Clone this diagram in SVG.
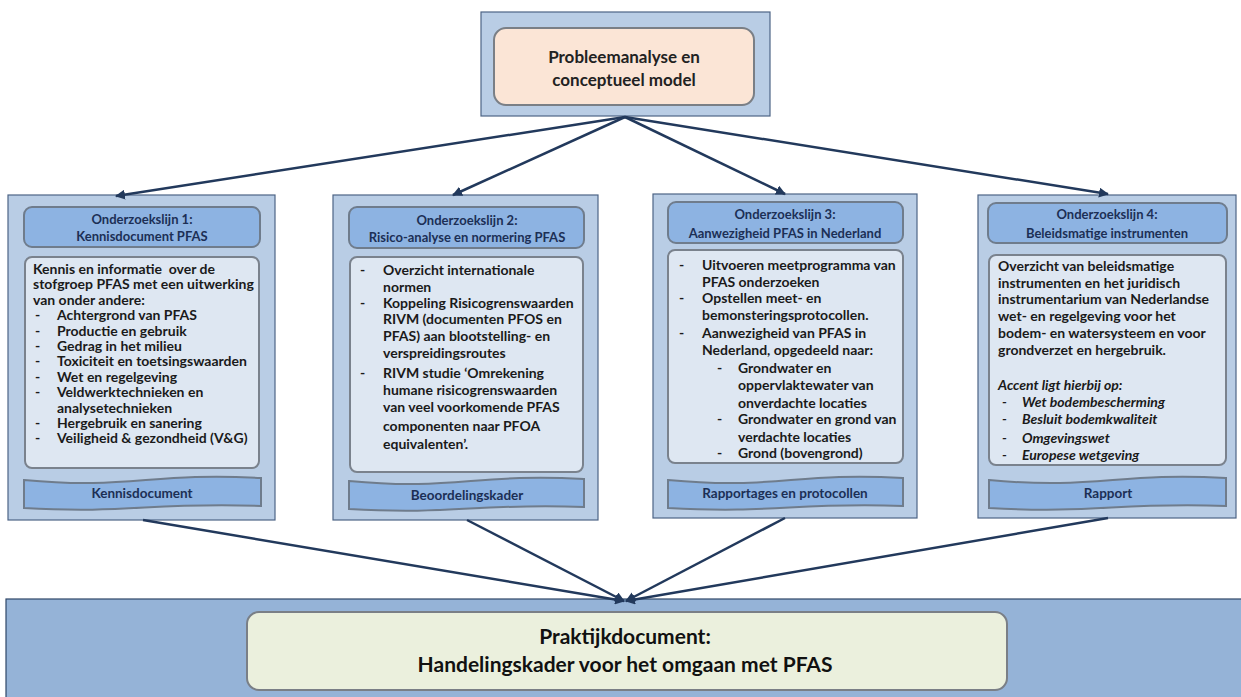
<svg xmlns="http://www.w3.org/2000/svg" width="1241" height="697" viewBox="0 0 1241 697">
<defs>
<marker id="ah" viewBox="0 0 10 10" refX="9" refY="5" markerWidth="4" markerHeight="4" orient="auto" markerUnits="strokeWidth">
<path d="M0,0 L10,5 L0,10 z" fill="#22395c"/>
</marker>
</defs>
<style>
.outer{fill:#b9cde5;stroke:#4d6485;stroke-width:1.2}
.hdr{fill:#8db3e2;stroke:#6f7c8c;stroke-width:2}
.body{fill:#dee7f2;stroke:#7a828d;stroke-width:2}
.foot{fill:#8db3e2;stroke:#6f7c8c;stroke-width:2}
.conn{stroke:#22395c;stroke-width:2.5;fill:none;marker-end:url(#ah)}
text{font-family:Lato,"Open Sans","Liberation Sans",sans-serif;font-weight:bold}
.ht{font-size:13px;fill:#1c2f55;text-anchor:middle}
.bt{font-size:14px;fill:#1a1a1a}
.it{font-style:italic}
.ft{font-size:13.5px;fill:#1c2f55;text-anchor:middle}
.big{font-size:21px;fill:#111;text-anchor:middle}
.top{font-size:17px;fill:#222;text-anchor:middle}
</style>
<rect width="1241" height="697" fill="#ffffff"/>

<g id="top">
<rect class="outer" x="481" y="12" width="289" height="104"/>
<rect x="494" y="28" width="260" height="77" rx="12" fill="#fbe5d6" stroke="#7a7f86" stroke-width="2"/>
<text class="top" x="624" y="63">Probleemanalyse en</text>
<text class="top" x="624" y="86">conceptueel model</text>
</g>

<g id="lijn1">
<rect class="outer" x="8" y="195" width="267" height="325"/>
<rect class="hdr" x="24" y="207" width="236" height="40" rx="8"/>
<text class="ht" x="142" y="224">Onderzoekslijn 1:</text>
<text class="ht" x="142" y="241">Kennisdocument PFAS</text>
<rect class="body" x="25" y="257" width="234" height="211" rx="7"/>
<text class="bt" x="33" y="274">Kennis en informatie &#160;over de</text>
<text class="bt" x="33" y="289.4">stofgroep PFAS met een uitwerking</text>
<text class="bt" x="33" y="304.8">van onder andere:</text>
<text class="bt" x="35" y="320.2">-</text><text class="bt" x="57" y="320.2">Achtergrond van PFAS</text>
<text class="bt" x="35" y="335.6">-</text><text class="bt" x="57" y="335.6">Productie en gebruik</text>
<text class="bt" x="35" y="351">-</text><text class="bt" x="57" y="351">Gedrag in het milieu</text>
<text class="bt" x="35" y="366.4">-</text><text class="bt" x="57" y="366.4">Toxiciteit en toetsingswaarden</text>
<text class="bt" x="35" y="381.8">-</text><text class="bt" x="57" y="381.8">Wet en regelgeving</text>
<text class="bt" x="35" y="397.2">-</text><text class="bt" x="57" y="397.2">Veldwerktechnieken en</text>
<text class="bt" x="57" y="412.6">analysetechnieken</text>
<text class="bt" x="35" y="428">-</text><text class="bt" x="57" y="428">Hergebruik en sanering</text>
<text class="bt" x="35" y="443.4">-</text><text class="bt" x="57" y="443.4">Veiligheid &amp; gezondheid (V&amp;G)</text>
<path class="foot" d="M24,480 C130,490 150,472 261,478 L261,506 C150,502 130,514 24,508 Z"/>
<text class="ft" x="142" y="498">Kennisdocument</text>
</g>

<g id="lijn2">
<rect class="outer" x="333" y="195" width="265" height="325"/>
<rect class="hdr" x="349" y="207" width="235" height="41" rx="8"/>
<text class="ht" x="467" y="225">Onderzoekslijn 2:</text>
<text class="ht" x="467" y="242">Risico-analyse en normering PFAS</text>
<rect class="body" x="350" y="257" width="233" height="215" rx="7"/>
<text class="bt" x="360" y="274.5">-</text><text class="bt" x="383" y="274.5">Overzicht internationale</text>
<text class="bt" x="383" y="291.5">normen</text>
<text class="bt" x="360" y="307.5">-</text><text class="bt" x="383" y="307.5">Koppeling Risicogrenswaarden</text>
<text class="bt" x="383" y="323.5">RIVM (documenten PFOS en</text>
<text class="bt" x="383" y="340.5">PFAS) aan blootstelling- en</text>
<text class="bt" x="383" y="357.5">verspreidingsroutes</text>
<text class="bt" x="360" y="377.5">-</text><text class="bt" x="383" y="377.5">RIVM studie ‘Omrekening</text>
<text class="bt" x="383" y="394.5">humane risicogrenswaarden</text>
<text class="bt" x="383" y="411.5">van veel voorkomende PFAS</text>
<text class="bt" x="383" y="430.5">componenten naar PFOA</text>
<text class="bt" x="383" y="448.5">equivalenten’.</text>
<path class="foot" d="M349,481 C455,491 475,473 584,479 L584,507 C475,503 455,515 349,509 Z"/>
<text class="ft" x="467" y="500">Beoordelingskader</text>
</g>

<g id="lijn3">
<rect class="outer" x="653" y="194" width="264" height="324"/>
<rect class="hdr" x="668" y="202" width="235" height="41" rx="8"/>
<text class="ht" x="785" y="219">Onderzoekslijn 3:</text>
<text class="ht" x="785" y="238">Aanwezigheid PFAS in Nederland</text>
<rect class="body" x="668" y="250" width="235" height="213" rx="7"/>
<text class="bt" x="679" y="269.5">-</text><text class="bt" x="702" y="269.5">Uitvoeren meetprogramma van</text>
<text class="bt" x="702" y="286.5">PFAS onderzoeken</text>
<text class="bt" x="679" y="302.5">-</text><text class="bt" x="702" y="302.5">Opstellen meet- en</text>
<text class="bt" x="702" y="319.5">bemonsteringsprotocollen.</text>
<text class="bt" x="679" y="337.5">-</text><text class="bt" x="702" y="337.5">Aanwezigheid van PFAS in</text>
<text class="bt" x="702" y="354.5">Nederland, opgedeeld naar:</text>
<text class="bt" x="717" y="372.5">-</text><text class="bt" x="738" y="372.5">Grondwater en</text>
<text class="bt" x="738" y="389.5">oppervlaktewater van</text>
<text class="bt" x="738" y="407.5">onverdachte locaties</text>
<text class="bt" x="717" y="423.5">-</text><text class="bt" x="738" y="423.5">Grondwater en grond van</text>
<text class="bt" x="738" y="441.5">verdachte locaties</text>
<text class="bt" x="717" y="457.5">-</text><text class="bt" x="738" y="457.5">Grond (bovengrond)</text>
<path class="foot" d="M668,480 C775,490 795,472 903,478 L903,506 C795,502 775,514 668,508 Z"/>
<text class="ft" x="785" y="498">Rapportages en protocollen</text>
</g>

<g id="lijn4">
<rect class="outer" x="978" y="195" width="258" height="323"/>
<rect class="hdr" x="988" y="203" width="239" height="40" rx="8"/>
<text class="ht" x="1107" y="219">Onderzoekslijn 4:</text>
<text class="ht" x="1107" y="238">Beleidsmatige instrumenten</text>
<rect class="body" x="989" y="255" width="237" height="210" rx="7"/>
<text class="bt" x="998" y="270.5">Overzicht van beleidsmatige</text>
<text class="bt" x="998" y="287.5">instrumenten en het juridisch</text>
<text class="bt" x="998" y="303.5">instrumentarium van Nederlandse</text>
<text class="bt" x="998" y="320.5">wet- en regelgeving voor het</text>
<text class="bt" x="998" y="337.5">bodem- en watersysteem en voor</text>
<text class="bt" x="998" y="354.5">grondverzet en hergebruik.</text>
<text class="bt it" x="998" y="389.5">Accent ligt hierbij op:</text>
<text class="bt it" x="1002" y="406.5">-</text><text class="bt it" x="1022" y="406.5">Wet bodembescherming</text>
<text class="bt it" x="1002" y="423.5">-</text><text class="bt it" x="1022" y="423.5">Besluit bodemkwaliteit</text>
<text class="bt it" x="1002" y="442.5">-</text><text class="bt it" x="1022" y="442.5">Omgevingswet</text>
<text class="bt it" x="1002" y="459.5">-</text><text class="bt it" x="1022" y="459.5">Europese wetgeving</text>
<path class="foot" d="M989,480 C1097,490 1117,472 1226,478 L1226,506 C1117,502 1097,514 989,508 Z"/>
<text class="ft" x="1108" y="498">Rapport</text>
</g>

<g id="praktijk">
<rect x="6" y="599" width="1240" height="105" fill="#95b3d7" stroke="#2f4668" stroke-width="1.2"/>
<rect x="247" y="612" width="760" height="78" rx="12" fill="#ebf0dd" stroke="#7a7f86" stroke-width="2"/>
<text class="big" x="625" y="644">Praktijkdocument:</text>
<text class="big" x="625" y="672">Handelingskader voor het omgaan met PFAS</text>
</g>

<g id="connectors">
<line class="conn" x1="625" y1="117" x2="116" y2="196"/>
<line class="conn" x1="625" y1="117" x2="453" y2="195"/>
<line class="conn" x1="625" y1="117" x2="785" y2="194"/>
<line class="conn" x1="625" y1="117" x2="1108" y2="194"/>
<line class="conn" x1="143" y1="520" x2="624" y2="601"/>
<line class="conn" x1="467" y1="520" x2="624" y2="601"/>
<line class="conn" x1="785" y1="518" x2="626" y2="601"/>
<line class="conn" x1="1108" y1="518" x2="626" y2="601"/>
</g>
</svg>
